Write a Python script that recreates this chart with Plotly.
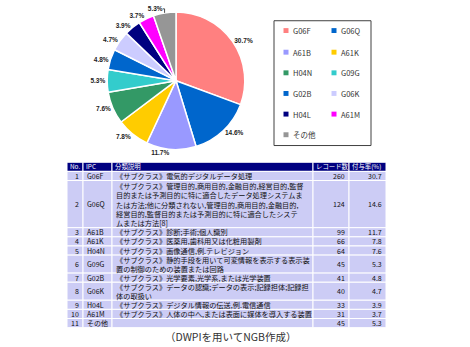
import plotly.graph_objects as go

W, H = 470, 347

# ---- data ----
ipc = ["G06F", "G06Q", "A61B", "A61K", "H04N", "G09G", "G02B", "G06K", "H04L", "A61M", "その他"]
records = [260, 124, 99, 66, 64, 45, 41, 40, 33, 31, 45]
rates = [30.7, 14.6, 11.7, 7.8, 7.6, 5.3, 4.8, 4.7, 3.9, 3.7, 5.3]
colors = ["#FF8080", "#0066CC", "#9999FF", "#FFCC00", "#339966", "#33CCCC",
          "#0066CC", "#CCCCFF", "#000080", "#FF00FF", "#969696"]
nos = list(range(1, 12))
descs = [
    "《サブクラス》電気的デジタルデータ処理",
    "《サブクラス》管理目的,商用目的,金融目的,経営目的,監督<br>目的または予測目的に特に適合したデータ処理システムま<br>たは方法;他に分類されない,管理目的,商用目的,金融目的,<br>経営目的,監督目的または予測目的に特に適合したシステ<br>ムまたは方法[8]",
    "《サブクラス》診断;手術;個人識別",
    "《サブクラス》医薬用,歯科用又は化粧用製剤",
    "《サブクラス》画像通信,例.テレビジョン",
    "《サブクラス》静的手段を用いて可変情報を表示する表示装<br>置の制御のための装置または回路",
    "《サブクラス》光学要素,光学系,または光学装置",
    "《サブクラス》データの認識;データの表示;記録担体;記録担<br>体の取扱い",
    "《サブクラス》デジタル情報の伝送,例.電信通信",
    "《サブクラス》人体の中へ,または表面に媒体を導入する装置",
    "",
]
headers = ["No.", "IPC", "分類説明", "レコード数", "付与率(%)"]
caption = "（DWPIを用いてNGB作成）"

FONT = "Noto Sans CJK JP"

def px(x):
    return x / W

def py(y):
    return 1 - y / H

fig = go.Figure()

# ---- pie ----
cx, cy, R = 176, 76, 70
fig.add_trace(go.Pie(
    labels=ipc,
    values=records,
    text=[f"<b>{r:.1f}%</b>" for r in rates],
    textinfo="text",
    textposition="outside",
    sort=False,
    direction="clockwise",
    rotation=0,
    marker=dict(colors=colors, line=dict(color="white", width=1.5)),
    outsidetextfont=dict(family="Arial", size=6.5, color="#222222"),
    domain=dict(x=[px(cx - R), px(cx + R)], y=[py(cy + R), py(cy - R)]),
    showlegend=False,
    hoverinfo="label+percent",
))

shapes = []
annotations = []

# ---- table (cells built from the data arrays) ----
col_edges = [67, 83, 112, 313, 349, 386]
col_align = ["right", "left", "left", "right", "right"]
TOP = 159
HDR_H = 9.3
row_h_by_lines = {1: 9.3, 2: 18.3, 5: 48.0}
CELL_FILL = "#CCCCF5"
HDR_FILL = "#000080"

def cell_text_x(ci, align):
    if align == "left":
        return col_edges[ci] + 1.5, "left"
    return col_edges[ci + 1] - 2, "right"

# header
for ci, htxt in enumerate(headers):
    shapes.append(dict(type="rect", xref="paper", yref="paper",
                       x0=px(col_edges[ci]), x1=px(col_edges[ci + 1]),
                       y0=py(TOP + HDR_H), y1=py(TOP),
                       line=dict(color="white", width=1), fillcolor=HDR_FILL, layer="below"))
    annotations.append(dict(xref="paper", yref="paper", x=px(col_edges[ci] + 1),
                            y=py(TOP + HDR_H / 2), text=htxt, showarrow=False,
                            xanchor="left", yanchor="middle",
                            font=dict(family=FONT, size=6.4, color="white")))

rows = list(zip(nos, ipc, descs, records, [f"{r:.1f}" for r in rates]))
y = TOP + HDR_H
for row in rows:
    nlines = row[2].count("<br>") + 1
    h = row_h_by_lines[nlines]
    for ci, val in enumerate(row):
        shapes.append(dict(type="rect", xref="paper", yref="paper",
                           x0=px(col_edges[ci]), x1=px(col_edges[ci + 1]),
                           y0=py(y + h), y1=py(y),
                           line=dict(color="white", width=1), fillcolor=CELL_FILL, layer="below"))
        if str(val) == "":
            continue
        tx, anchor = cell_text_x(ci, col_align[ci])
        annotations.append(dict(xref="paper", yref="paper", x=px(tx), y=py(y + h / 2),
                                text=str(val), showarrow=False, xanchor=anchor,
                                yanchor="middle", align="left",
                                font=dict(family=FONT, size=7.2 if ci == 2 else 7,
                                          color="#111111")))
    y += h

# ---- manual legend (2 columns) ----
shapes.append(dict(type="rect", xref="paper", yref="paper",
                   x0=px(274), x1=px(371), y0=py(142), y1=py(15),
                   line=dict(color="#404040", width=1), fillcolor="rgba(0,0,0,0)"))
row_y = [25, 47, 68, 89, 110, 131]
col_x = [286, 334]
for i, (lab, col) in enumerate(zip(ipc, colors)):
    r, c = divmod(i, 2)
    mx, my = col_x[c], row_y[r]
    shapes.append(dict(type="rect", xref="paper", yref="paper",
                       x0=px(mx - 2.5), x1=px(mx + 2.5), y0=py(my + 2.5), y1=py(my - 2.5),
                       line=dict(width=0), fillcolor=col))
    annotations.append(dict(xref="paper", yref="paper", x=px(mx + 5), y=py(my),
                            text=lab, showarrow=False, xanchor="left", yanchor="middle",
                            font=dict(family=FONT, size=7.5, color="#333333")))

annotations.append(dict(xref="paper", yref="paper", x=px(231), y=py(336),
                        text=caption, showarrow=False, xanchor="center", yanchor="middle",
                        font=dict(family=FONT, size=10.5, color="#333333")))

fig.update_layout(
    width=W, height=H,
    margin=dict(l=0, r=0, t=0, b=0),
    paper_bgcolor="white",
    plot_bgcolor="white",
    shapes=shapes,
    annotations=annotations,
    showlegend=False,
)

fig.write_html("out.html")
